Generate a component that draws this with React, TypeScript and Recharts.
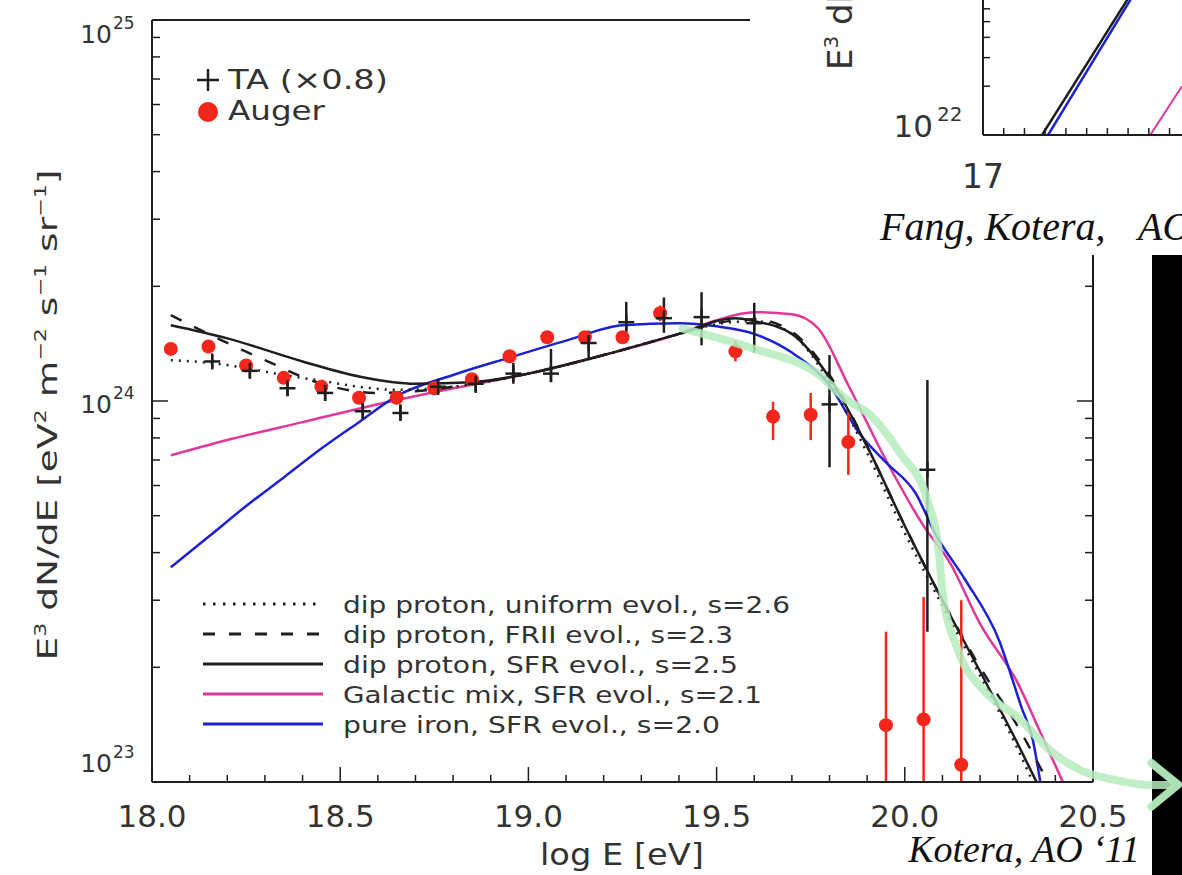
import React from 'react';
import { ComposedChart, LineChart, Line, Scatter, XAxis, YAxis, ErrorBar } from 'recharts';

const W = 1182;
const H = 875;
const SANS = '"DejaVu Sans", "Noto Sans", sans-serif';
const SERIF = '"Liberation Serif", "DejaVu Serif", serif';
const INK = '#1e1e1e';
const TXT = '#333';
const RED = '#f2261a';
const PINK = '#e0379a';
const BLUE = '#1c22d2';
const GREEN = '#b5ecbd';

// model spectra: log E [eV] -> E^3 dN/dE
const uniformE = [18.05, 18.15, 18.25, 18.35, 18.45, 18.55, 18.65, 18.8, 19.0, 19.2, 19.4, 19.5, 19.6, 19.7, 19.8, 19.9, 20.0, 20.1, 20.2, 20.3, 20.34];
const uniformF = [1.28e24, 1.26e24, 1.22e24, 1.17e24, 1.13e24, 1.09e24, 1.07e24, 1.09e24, 1.18e24, 1.32e24, 1.5e24, 1.59e24, 1.62e24, 1.5e24, 1.12e24, 7.3e23, 4.5e23, 2.9e23, 1.9e23, 1.22e23, 1.0e23];

const friiE = [18.05, 18.15, 18.3, 18.45, 18.6, 18.7, 18.85, 19.0, 19.2, 19.4, 19.5, 19.6, 19.7, 19.8, 19.9, 20.0, 20.1, 20.2, 20.3, 20.38];
const friiF = [1.68e24, 1.5e24, 1.28e24, 1.11e24, 1.05e24, 1.06e24, 1.11e24, 1.18e24, 1.32e24, 1.5e24, 1.6e24, 1.64e24, 1.52e24, 1.17e24, 7.6e23, 4.7e23, 3.0e23, 2.0e23, 1.4e23, 1.0e23];

const sfrE = [18.05, 18.2, 18.4, 18.55, 18.7, 18.85, 19.0, 19.2, 19.4, 19.55, 19.6, 19.7, 19.8, 19.9, 20.0, 20.1, 20.2, 20.3, 20.35];
const sfrF = [1.58e24, 1.46e24, 1.27e24, 1.16e24, 1.11e24, 1.12e24, 1.18e24, 1.32e24, 1.5e24, 1.65e24, 1.62e24, 1.5e24, 1.15e24, 7.6e23, 4.7e23, 3.0e23, 1.95e23, 1.26e23, 1.0e23];

const galE = [18.05, 18.2, 18.4, 18.6, 18.8, 19.0, 19.2, 19.4, 19.5, 19.6, 19.7, 19.77, 19.85, 19.95, 20.05, 20.12, 20.2, 20.3, 20.36, 20.42];
const galF = [7.2e23, 7.9e23, 8.8e23, 9.8e23, 1.08e24, 1.18e24, 1.32e24, 1.5e24, 1.63e24, 1.71e24, 1.69e24, 1.55e24, 1.1e24, 7.0e23, 4.7e23, 3.76e23, 2.6e23, 1.82e23, 1.35e23, 1.0e23];

const ironE = [18.05, 18.15, 18.25, 18.35, 18.45, 18.55, 18.65, 18.8, 18.95, 19.1, 19.25, 19.4, 19.5, 19.6, 19.7, 19.8, 19.88, 19.95, 20.03, 20.08, 20.16, 20.25, 20.31, 20.34, 20.36];
const ironF = [3.66e23, 4.4e23, 5.3e23, 6.3e23, 7.5e23, 8.8e23, 1.03e24, 1.17e24, 1.3e24, 1.44e24, 1.58e24, 1.6e24, 1.57e24, 1.5e24, 1.34e24, 1.1e24, 8.2e23, 6.9e23, 5.7e23, 4.5e23, 3.4e23, 2.36e23, 1.57e23, 1.29e23, 1.0e23];

// Auger data
const augerE = [18.05, 18.15, 18.25, 18.35, 18.45, 18.55, 18.65, 18.75, 18.85, 18.95, 19.05, 19.15, 19.25, 19.35, 19.55, 19.65, 19.75, 19.85, 19.95, 20.05, 20.15];
const augerF = [1.37e24, 1.39e24, 1.24e24, 1.15e24, 1.09e24, 1.02e24, 1.02e24, 1.08e24, 1.14e24, 1.31e24, 1.47e24, 1.47e24, 1.47e24, 1.7e24, 1.35e24, 9.1e23, 9.2e23, 7.8e23, 1.41e23, 1.46e23, 1.11e23];
const augerLo = [1.35e24, 1.37e24, 1.22e24, 1.13e24, 1.07e24, 1.0e24, 1.0e24, 1.06e24, 1.12e24, 1.28e24, 1.44e24, 1.44e24, 1.44e24, 1.62e24, 1.27e24, 7.9e23, 7.9e23, 6.4e23, 1.0e23, 1.0e23, 1.0e23];
const augerHi = [1.39e24, 1.41e24, 1.26e24, 1.17e24, 1.11e24, 1.04e24, 1.04e24, 1.1e24, 1.16e24, 1.34e24, 1.5e24, 1.5e24, 1.5e24, 1.78e24, 1.44e24, 9.95e23, 1.05e24, 9.3e23, 2.48e23, 3.06e23, 3.0e23];

// TA data (x0.8)
const taE = [18.16, 18.26, 18.36, 18.46, 18.56, 18.66, 18.76, 18.86, 18.96, 19.06, 19.16, 19.26, 19.36, 19.46, 19.6, 19.8, 20.06];
const taF = [1.27e24, 1.2e24, 1.08e24, 1.05e24, 9.4e23, 9.3e23, 1.09e24, 1.11e24, 1.18e24, 1.18e24, 1.42e24, 1.61e24, 1.65e24, 1.66e24, 1.6e24, 9.8e23, 6.6e23];
const taLo = [1.22e24, 1.15e24, 1.03e24, 1.0e24, 9.0e23, 8.9e23, 1.04e24, 1.05e24, 1.11e24, 1.12e24, 1.28e24, 1.51e24, 1.51e24, 1.4e24, 1.34e24, 6.7e23, 2.48e23];
const taHi = [1.32e24, 1.25e24, 1.13e24, 1.1e24, 9.9e23, 9.8e23, 1.14e24, 1.17e24, 1.26e24, 1.37e24, 1.53e24, 1.82e24, 1.87e24, 1.93e24, 1.81e24, 1.32e24, 1.135e24];

// inset (upper right) curves
const insetBlackE = [17.285, 17.73];
const insetBlackF = [1e22, 8e22];
const insetBlueE = [17.314, 17.744];
const insetBlueF = [1e22, 8e22];
const insetPinkE = [17.807, 17.96];
const insetPinkF = [1e22, 2e22];

// green annotation arrow, log E vs log10 flux
const arrowE = [19.41, 19.59, 19.77, 19.85, 19.9, 19.99, 20.06, 20.09, 20.1, 20.14, 20.21, 20.3, 20.39, 20.47, 20.56, 20.65, 20.7];
const arrowLogF = [24.19, 24.14, 24.07, 24.0, 23.97, 23.86, 23.74, 23.61, 23.5, 23.35, 23.24, 23.17, 23.08, 23.03, 23.005, 22.992, 22.992];
const arrowHeadE = [20.655, 20.726, 20.655];
const arrowHeadLogF = [23.05, 22.993, 22.935];

// axes
const xTicks = Array.from({ length: 26 }, (_, i) => Math.round((18 + i * 0.1) * 10) / 10);
const mant = [1, 2, 3, 4, 5, 6, 7, 8, 9];
const yTicks = [...mant.map((m) => m * 1e23), ...mant.map((m) => m * 1e24), 1e25];
const insetXTicks = Array.from({ length: 10 }, (_, i) => Math.round((17 + i * 0.1) * 10) / 10);
const insetYTicks = [1e22, 2e22, 3e22, 4e22, 5e22, 6e22];

const pts = (xs: number[], ys: number[]) => xs.map((x, i) => ({ x, y: ys[i] }));
const withErr = (xs: number[], ys: number[], lo: number[], hi: number[]) =>
  xs.map((x, i) => ({ x, y: ys[i], err: [ys[i] - lo[i], hi[i] - ys[i]] }));

const models = [
  { name: 'dip proton, uniform evol., s=2.6', e: uniformE, f: uniformF, color: INK, dash: '2 6', textLen: 447 },
  { name: 'dip proton, FRII evol., s=2.3', e: friiE, f: friiF, color: INK, dash: '12 14', textLen: 390 },
  { name: 'dip proton, SFR evol., s=2.5', e: sfrE, f: sfrF, color: INK, dash: undefined, textLen: 395 },
  { name: 'Galactic mix, SFR evol., s=2.1', e: galE, f: galF, color: PINK, dash: undefined, textLen: 419 },
  { name: 'pure iron, SFR evol., s=2.0', e: ironE, f: ironF, color: BLUE, dash: undefined, textLen: 377 },
];
const drawOrder = [3, 4, 2, 1, 0];

const axisStyle = { stroke: INK, strokeWidth: 2 };
const isHalf = (v: number) => Math.abs(v * 2 - Math.round(v * 2)) < 1e-6;
const isDecade = (v: number) => Math.abs(Math.log10(v) - Math.round(Math.log10(v))) < 1e-6;

const BottomTick = (p: any) => {
  const v = p.payload.value;
  const major = isHalf(v);
  return (
    <g>
      <line x1={p.x} x2={p.x} y1={p.y} y2={p.y - (major ? 15 : 7)} stroke={INK} strokeWidth={1.5} />
      {major && (
        <text x={p.x} y={p.y + 45} textAnchor="middle" fontFamily={SANS} fontSize={31} fill={TXT}>
          {v.toFixed(1)}
        </text>
      )}
    </g>
  );
};

const TopTick = (p: any) => {
  const major = isHalf(p.payload.value);
  return <line x1={p.x} x2={p.x} y1={p.y} y2={p.y + (major ? 15 : 7)} stroke={INK} strokeWidth={1.5} />;
};

const LeftTick = (p: any) => {
  const v = p.payload.value;
  const dec = isDecade(v);
  const exp = Math.round(Math.log10(v));
  // IDL nudges the end labels inside the frame
  const base = exp === 25 ? p.y + 23 : exp === 23 ? p.y - 10 : p.y + 12;
  return (
    <g>
      <line x1={p.x} x2={p.x + (dec ? 16 : 8)} y1={p.y} y2={p.y} stroke={INK} strokeWidth={1.5} />
      {dec && (
        <g fontFamily={SANS} fill={TXT}>
          <text x={p.x - 40} y={base} textAnchor="end" fontSize={25}>10</text>
          <text x={p.x - 39} y={base - 14} fontSize={17}>{exp}</text>
        </g>
      )}
    </g>
  );
};

const RightTick = (p: any) => {
  const dec = isDecade(p.payload.value);
  return <line x1={p.x} x2={p.x - (dec ? 16 : 8)} y1={p.y} y2={p.y} stroke={INK} strokeWidth={1.5} />;
};

const InsetBottomTick = (p: any) => {
  const v = p.payload.value;
  return (
    <g>
      <line x1={p.x} x2={p.x} y1={p.y} y2={p.y - 7} stroke={INK} strokeWidth={1.5} />
      {v === 17 && (
        <text x={p.x} y={p.y + 53} textAnchor="middle" fontFamily={SANS} fontSize={33} fill={TXT}>17</text>
      )}
    </g>
  );
};

const InsetLeftTick = (p: any) => {
  const v = p.payload.value;
  const dec = isDecade(v);
  return (
    <g>
      <line x1={p.x} x2={p.x + 7} y1={p.y} y2={p.y} stroke={INK} strokeWidth={1.5} />
      {dec && (
        <g fontFamily={SANS} fill={TXT}>
          <text x={p.x - 50} y={p.y + 2} textAnchor="end" fontSize={31}>10</text>
          <text x={p.x - 46} y={p.y - 14} fontSize={20}>22</text>
        </g>
      )}
    </g>
  );
};

const AugerDot = (p: any) => <circle cx={p.cx} cy={p.cy} r={7} fill={RED} />;
const TaCross = (p: any) => (
  <g stroke={INK} strokeWidth={2.5}>
    <line x1={p.cx - 8} x2={p.cx + 8} y1={p.cy} y2={p.cy} />
    <line x1={p.cx} x2={p.cx} y1={p.cy - 8} y2={p.cy + 8} />
  </g>
);

const MainChart = () => (
  <ComposedChart width={W} height={H} margin={{ top: 10, right: 69, bottom: 33, left: 0 }}>
    <XAxis dataKey="x" type="number" domain={[18, 20.5]} allowDataOverflow ticks={xTicks} interval={0}
      tickSize={0} tickMargin={0} tickLine={false} tick={<BottomTick />} axisLine={axisStyle} height={60} />
    <XAxis xAxisId="top" orientation="top" type="number" domain={[18, 20.5]} allowDataOverflow ticks={xTicks}
      interval={0} tickSize={0} tickMargin={0} tickLine={false} tick={<TopTick />} axisLine={axisStyle} height={10} />
    <YAxis dataKey="y" type="number" scale="log" domain={[1e23, 1e25]} allowDataOverflow ticks={yTicks} interval={0}
      tickSize={0} tickMargin={0} tickLine={false} tick={<LeftTick />} axisLine={axisStyle} width={152} />
    <YAxis yAxisId="right" orientation="right" type="number" scale="log" domain={[1e23, 1e25]} allowDataOverflow
      ticks={yTicks} interval={0} tickSize={0} tickMargin={0} tickLine={false} tick={<RightTick />}
      axisLine={axisStyle} width={20} />
    {drawOrder.map((k) => {
      const m = models[k];
      return (
        <Line key={m.name} data={pts(m.e, m.f)} dataKey="y" type="monotone" stroke={m.color}
          strokeWidth={2.5} strokeDasharray={m.dash} dot={false} isAnimationActive={false} />
      );
    })}
    <Scatter data={withErr(augerE, augerF, augerLo, augerHi)} shape={AugerDot} isAnimationActive={false}>
      <ErrorBar dataKey="err" direction="y" width={0} stroke={RED} strokeWidth={2.5} />
    </Scatter>
    <Scatter data={withErr(taE, taF, taLo, taHi)} shape={TaCross} isAnimationActive={false}>
      <ErrorBar dataKey="err" direction="y" width={0} stroke={INK} strokeWidth={2.5} />
    </Scatter>
  </ComposedChart>
);

const InsetChart = () => (
  <LineChart width={432} height={255} margin={{ top: 0, right: 0, bottom: 60, left: 133 }}>
    <XAxis dataKey="x" type="number" domain={[17, 17.96]} allowDataOverflow ticks={insetXTicks} interval={0}
      tickSize={0} tickMargin={0} tickLine={false} tick={<InsetBottomTick />} axisLine={axisStyle} height={60} />
    <YAxis dataKey="y" type="number" scale="log" domain={[1e22, 6.8e22]} allowDataOverflow ticks={insetYTicks}
      interval={0} tickSize={0} tickMargin={0} tickLine={false} tick={<InsetLeftTick />} axisLine={axisStyle} width={100} />
    <Line data={pts(insetPinkE, insetPinkF)} dataKey="y" stroke={PINK} strokeWidth={2} dot={false} isAnimationActive={false} />
    <Line data={pts(insetBlueE, insetBlueF)} dataKey="y" stroke={BLUE} strokeWidth={2.5} dot={false} isAnimationActive={false} />
    <Line data={pts(insetBlackE, insetBlackF)} dataKey="y" stroke={INK} strokeWidth={2.5} dot={false} isAnimationActive={false} />
  </LineChart>
);

const ArrowChart = () => (
  <ComposedChart width={W} height={H} margin={{ top: 20, right: 0, bottom: 55, left: 152 }}>
    <XAxis dataKey="x" type="number" domain={[18, 20.7365]} allowDataOverflow hide />
    <YAxis dataKey="y" type="number" domain={[22.9003, 25]} allowDataOverflow hide />
    <Line data={pts(arrowE, arrowLogF)} dataKey="y" type="monotone" stroke={GREEN} strokeWidth={8}
      strokeOpacity={0.85} strokeLinecap="round" dot={false} isAnimationActive={false} />
    <Line data={pts(arrowHeadE, arrowHeadLogF)} dataKey="y" type="linear" stroke={GREEN} strokeWidth={8}
      strokeOpacity={0.95} strokeLinecap="round" strokeLinejoin="round" dot={false} isAnimationActive={false} />
  </ComposedChart>
);

const Sup = ({ children }: { children: React.ReactNode }) => (
  <tspan dy={-11} fontSize={16}>{children}</tspan>
);

const Annotations = () => (
  <svg width={W} height={H} style={{ position: 'absolute', left: 0, top: 0, pointerEvents: 'none' }}>
    {/* axis titles */}
    <text transform="translate(57,415) rotate(-90)" textAnchor="middle" fontFamily={SANS} fontSize={27} fill={TXT}
      textLength={491} lengthAdjust="spacingAndGlyphs">
      E<Sup>3</Sup><tspan dy={11}> dN/dE [eV</tspan><Sup>2</Sup><tspan dy={11}> m</tspan><Sup>−2</Sup>
      <tspan dy={11}> s</tspan><Sup>−1</Sup><tspan dy={11}> sr</tspan><Sup>−1</Sup><tspan dy={11}>]</tspan>
    </text>
    <text x={622} y={865} textAnchor="middle" fontFamily={SANS} fontSize={30} fill={TXT} textLength={164}
      lengthAdjust="spacingAndGlyphs">
      log E [eV]
    </text>

    {/* data legend */}
    <g stroke={INK} strokeWidth={2.5}>
      <line x1={197} x2={219} y1={80} y2={80} />
      <line x1={208} x2={208} y1={69} y2={91} />
    </g>
    <text x={228} y={89} fontFamily={SANS} fontSize={27} fill={TXT} textLength={160} lengthAdjust="spacingAndGlyphs">TA (×0.8)</text>
    <circle cx={208} cy={112} r={10} fill={RED} />
    <text x={228} y={120} fontFamily={SANS} fontSize={27} fill={TXT} textLength={97} lengthAdjust="spacingAndGlyphs">Auger</text>

    {/* model legend */}
    {models.map((m, i) => (
      <g key={m.name}>
        <line x1={203} x2={323} y1={604 + i * 30} y2={604 + i * 30} stroke={m.color} strokeWidth={3}
          strokeDasharray={m.dash === '2 6' ? '2.5 7.5' : m.dash} />
        <text x={343} y={613 + i * 30} fontFamily={SANS} fontSize={23} fill={TXT} textLength={m.textLen}
          lengthAdjust="spacingAndGlyphs">{m.name}</text>
      </g>
    ))}

    {/* inset axis title (cut by the frame) */}
    <text transform="translate(852,70) rotate(-90)" fontFamily={SANS} fontSize={34} fill={TXT}>
      E<tspan dy={-14} fontSize={20}>3</tspan><tspan dy={14}> dN/dE</tspan>
    </text>

    {/* credits */}
    <text x={880} y={240} fontFamily={SERIF} fontStyle="italic" fontSize={40} fill="#111">
      Fang, Kotera,<tspan x={1138}>AO</tspan>
    </text>
    <text x={1140} y={862} textAnchor="end" fontFamily={SERIF} fontStyle="italic" fontSize={38} fill="#111">
      Kotera, AO ‘11
    </text>
  </svg>
);

export default function App() {
  return (
    <div style={{ position: 'absolute', left: 0, top: 0, width: W, height: H, overflow: 'hidden', background: '#fff' }}>
      <div style={{ position: 'absolute', left: 0, top: 0 }}>
        <MainChart />
      </div>
      <div style={{ position: 'absolute', left: 750, top: 0, width: 432, height: 255, background: '#fff' }}>
        <InsetChart />
      </div>
      <div style={{ position: 'absolute', left: 1152, top: 255, width: 30, height: 620, background: '#000' }} />
      <div style={{ position: 'absolute', left: 0, top: 0, pointerEvents: 'none' }}>
        <ArrowChart />
      </div>
      <Annotations />
    </div>
  );
}
